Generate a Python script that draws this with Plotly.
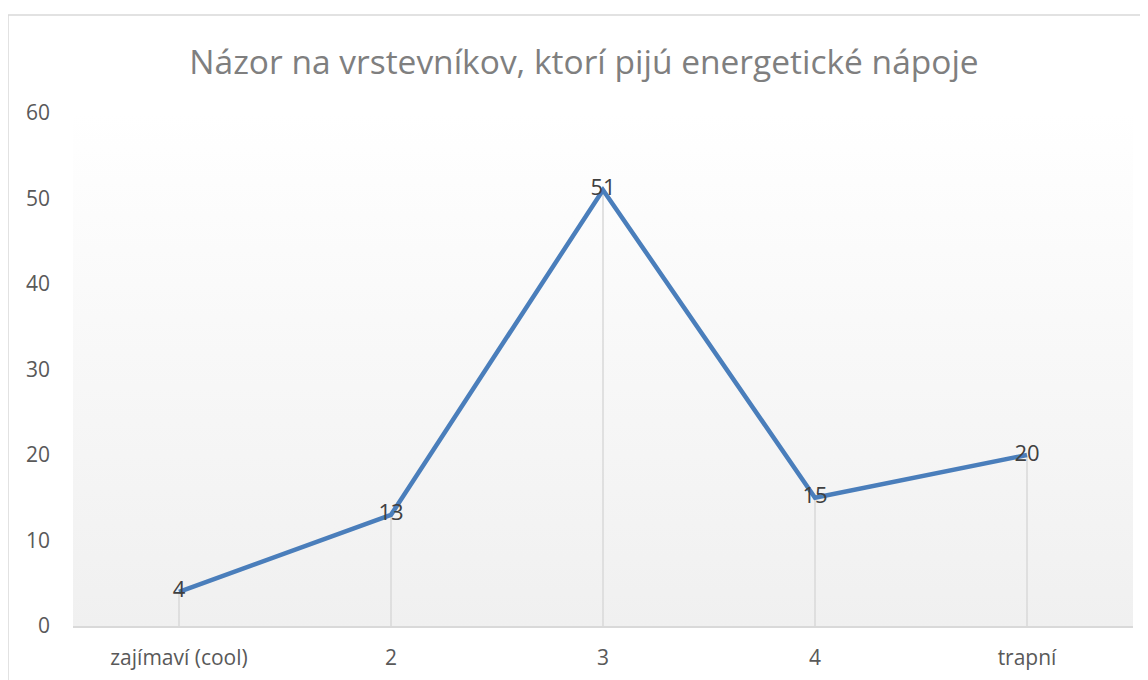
import base64
import plotly.graph_objs as go

categories = ['zajímaví (cool)', '2', '3', '4', 'trapní']
values = [4, 13, 51, 15, 20]
y_ticks = [0, 10, 20, 30, 40, 50, 60]

title_text = 'Názor na vrstevníkov, ktorí pijú energetické nápoje'
font_family = 'Open Sans, Noto Sans, sans-serif'

# the page body adds an 8px margin, so the figure is sized to the rest
W, H = 1140, 672

# vertical gradient for the plot area (white -> light grey)
svg = (
    '<svg xmlns="http://www.w3.org/2000/svg" width="100" height="100" preserveAspectRatio="none">'
    '<defs><linearGradient id="g" x1="0" y1="0" x2="0" y2="1">'
    '<stop offset="0" stop-color="#ffffff"/><stop offset="1" stop-color="#f0f0f0"/>'
    '</linearGradient></defs><rect width="100" height="100" fill="url(#g)"/></svg>'
)
bg_uri = 'data:image/svg+xml;base64,' + base64.b64encode(svg.encode()).decode()

# drop lines from each point down to the axis
drop_trace = go.Scatter(
    x=categories,
    y=values,
    mode='markers',
    marker=dict(size=1, color='rgba(0,0,0,0)'),
    error_y=dict(
        type='data', symmetric=False,
        array=[0] * len(values), arrayminus=values,
        color='#d9d9d9', thickness=1.5, width=0
    ),
    hoverinfo='skip',
    showlegend=False
)

line_trace = go.Scatter(
    x=categories,
    y=values,
    mode='lines+text',
    line=dict(color='#4a7ebb', width=4.5),
    text=[str(v) for v in values],
    textposition='middle center',
    textfont=dict(family=font_family, size=22, color='#404040'),
    showlegend=False
)

fig = go.Figure(data=[drop_trace, line_trace])

plot_w = W - 65 - 15
plot_h = H - 105 - 54

fig.update_layout(
    width=W,
    height=H,
    margin=dict(l=65, r=15, t=105, b=54),
    paper_bgcolor='white',
    plot_bgcolor='rgba(0,0,0,0)',
    title=dict(
        text=title_text,
        x=576 / W, xref='container', xanchor='center',
        y=1 - 54 / H, yref='container', yanchor='middle',
        font=dict(family=font_family, size=33.5, color='#7f7f7f')
    ),
    xaxis=dict(
        type='category',
        range=[-0.5, len(categories) - 0.5],
        showgrid=False,
        showline=True, linecolor='#d9d9d9', linewidth=1.5,
        ticks='', ticklabelstandoff=12,
        tickfont=dict(family=font_family, size=21, color='#595959'),
        automargin=False,
        fixedrange=True
    ),
    yaxis=dict(
        range=[0, 60],
        tickvals=y_ticks,
        showgrid=False, zeroline=False, showline=False,
        ticks='', ticklabelstandoff=22,
        tickfont=dict(family=font_family, size=21, color='#595959'),
        automargin=False,
        fixedrange=True
    ),
    images=[dict(
        source=bg_uri, xref='paper', yref='paper',
        x=0, y=1, sizex=1, sizey=1,
        xanchor='left', yanchor='top', sizing='stretch', layer='below'
    )],
    shapes=[dict(
        type='rect', xref='paper', yref='paper',
        x0=(0 - 65) / plot_w, x1=(1160 - 65) / plot_w,
        y0=-120 / plot_h, y1=(plot_h + 98) / plot_h,
        line=dict(color='#d9d9d9', width=1.5),
        fillcolor='rgba(0,0,0,0)', layer='below'
    )]
)

fig.write_html('out.html')
